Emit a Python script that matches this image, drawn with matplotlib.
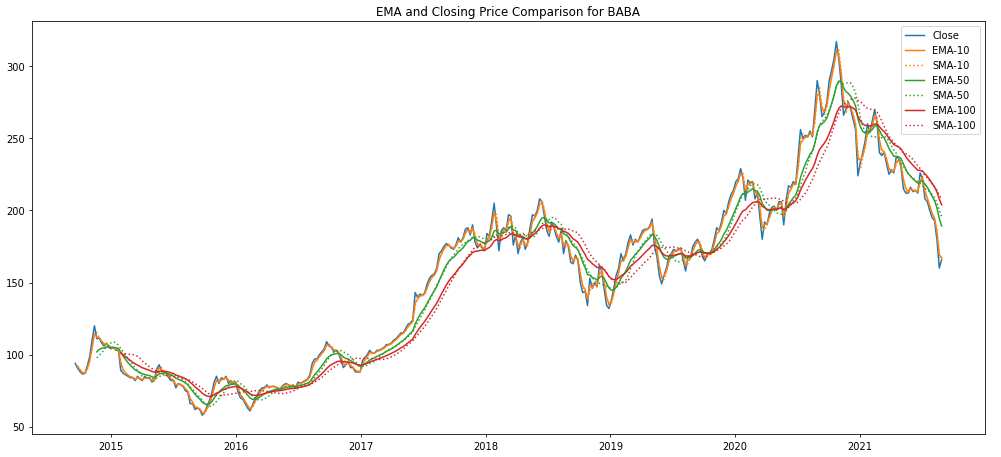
'''
EMA / SMA comparison for BABA closing price
'''
import numpy as np
import pandas as pd
import matplotlib
matplotlib.use('Agg')
import matplotlib.pyplot as plt

# weekly closes (Fridays)
close_2014 = [93.9, 90.5, 88.1, 86.5, 87.0, 92.0, 98.6, 110, 120, 111, 111.5, 108, 106, 108, 105]
close_2015 = [104, 105, 103, 103, 89, 87, 86, 85, 84, 84, 82, 85, 83,
              82, 85, 83.5, 84, 81, 82, 90, 93, 89, 88, 87, 84, 82,
              82, 77, 80, 79, 78, 75, 74, 66, 66, 62, 63, 62, 58,
              60, 64, 68, 73, 81, 85, 80, 84, 83, 85, 80, 82, 80]
close_2016 = [81, 74, 70, 69, 66, 63, 61, 65, 69, 72, 75, 77, 77,
              79, 77, 78, 78, 77, 76, 77, 79, 80, 79, 78, 79, 77,
              81, 80, 81, 82, 83, 86, 94, 97, 97, 100, 102, 104, 109, 106,
              105, 102, 103, 101, 96, 91, 93, 95, 91, 91, 88, 88, 88]
close_2017 = [96, 98, 100, 103, 101, 101, 103, 103, 104, 105, 107, 107, 108,
              110, 111, 113, 115, 115, 118, 121, 122, 124, 143, 140, 142, 141,
              143, 149, 153, 155, 156, 160, 170, 172, 175, 177, 176, 174, 173,
              176, 181, 178, 181, 187, 188, 183, 190, 178, 174, 176, 174, 172]
close_2018 = [184, 182, 193, 205, 189, 172, 186, 188, 186, 197, 196, 176, 183,
              170, 178, 181, 173, 178, 188, 197, 196, 200, 208, 206, 196, 186,
              182, 192, 188, 182, 178, 186, 170, 179, 175, 164, 163, 169, 165,
              150, 143, 144, 134, 153, 146, 150, 147, 162, 158, 145, 134, 132]
close_2019 = [138, 146, 155, 160, 170, 165, 170, 178, 183, 176, 180, 178, 182,
              186, 187, 187, 189, 194, 175, 168, 155, 149, 155, 160, 168, 170,
              173, 172, 173, 174, 165, 158, 168, 167, 175, 178, 180, 176, 168,
              165, 170, 170, 173, 180, 188, 186, 192, 200, 198, 206, 211, 214]
close_2020 = [220, 222, 229, 222, 207, 221, 219, 220, 208, 212, 196, 180, 192,
              190, 198, 202, 203, 200, 206, 206, 190, 207, 217, 216, 220, 218,
              237, 256, 250, 252, 251, 255, 251, 270, 290, 280, 265, 268, 275,
              290, 297, 305, 317, 305, 288, 266, 270, 275, 270, 263, 256, 224]
close_2021 = [233, 240, 248, 260, 254, 262, 270, 260, 240, 238, 240, 232, 225,
              228, 226, 237, 236, 230, 215, 212, 212, 216, 213, 214, 212, 226,
              222, 208, 206, 200, 195, 193, 180, 160, 166]

close = close_2014 + close_2015 + close_2016 + close_2017 + close_2018 + close_2019 + close_2020 + close_2021
dates = pd.date_range('2014-09-19', periods=len(close), freq='W-FRI')
df = pd.DataFrame({'Close': close}, index=dates)

# windows are in trading days; data is weekly (5 trading days per point)
for n in [10, 50, 100]:
    alpha = 1 - (1 - 2 / (n + 1)) ** 5
    df['EMA-%d' % n] = df['Close'].ewm(alpha=alpha, adjust=False, min_periods=n // 5).mean()
    df['SMA-%d' % n] = df['Close'].rolling(n // 5).mean()

plt.figure(figsize=(14, 6.4), dpi=71.5)
plt.plot(df.index, df['Close'], label='Close')
plt.plot(df.index, df['EMA-10'], color='C1', label='EMA-10')
plt.plot(df.index, df['SMA-10'], color='C1', linestyle=':', label='SMA-10')
plt.plot(df.index, df['EMA-50'], color='C2', label='EMA-50')
plt.plot(df.index, df['SMA-50'], color='C2', linestyle=':', label='SMA-50')
plt.plot(df.index, df['EMA-100'], color='C3', label='EMA-100')
plt.plot(df.index, df['SMA-100'], color='C3', linestyle=':', label='SMA-100')

plt.ylim(45, 331)
plt.title('EMA and Closing Price Comparison for BABA')
plt.legend(loc='upper right')
plt.subplots_adjust(left=32/1001, right=985/1001, bottom=23/457, top=435/457)

plt.savefig('out.png', dpi=71.5)
